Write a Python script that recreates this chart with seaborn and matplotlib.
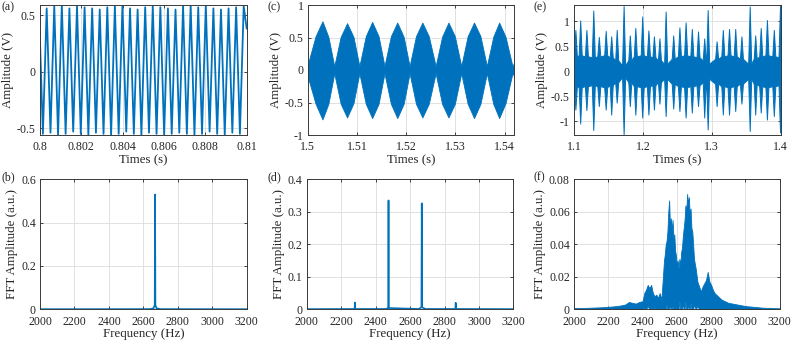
import numpy as np
import matplotlib
matplotlib.use("Agg")
import matplotlib.pyplot as plt
import seaborn as sns
from matplotlib.ticker import FormatStrFormatter

# ======================================================
# DATA
# ======================================================

BLUE = "#0072BD"

# (a) single tone, 0.8 - 0.81 s : extremes of the sampled sine
a_start_val = 0.27
a_end_val = 0.38
a_first = 0.80014      # time of first trough (s)
a_half = 0.0001833     # half period (s)
a_troughs = [-0.55, -0.54, -0.56, -0.55, -0.53, -0.55, -0.56, -0.54, -0.55,
             -0.56, -0.55, -0.53, -0.55, -0.56, -0.54, -0.55, -0.56, -0.55,
             -0.54, -0.55, -0.56, -0.55, -0.53, -0.55, -0.56, -0.54, -0.55]
a_peaks = [0.56, 0.58, 0.59, 0.56, 0.58, 0.57, 0.56, 0.55, 0.57,
           0.58, 0.59, 0.56, 0.55, 0.57, 0.58, 0.57, 0.56, 0.55,
           0.58, 0.59, 0.57, 0.59, 0.56, 0.55, 0.56, 0.57, 0.58]

# (b) spectrum of (a)
b_freq = [2000, 2640, 2660, 2666, 2668, 2670, 2676, 2700, 3200]
b_amp = [0.0006, 0.001, 0.005, 0.02, 0.53, 0.02, 0.005, 0.001, 0.0006]

# (c) two tones -> beat envelope (nulls, quarter points, peaks)
c_t = [1.5000, 1.5016, 1.5030, 1.5042, 1.5054, 1.5067, 1.5080, 1.5093,
       1.5105, 1.5118, 1.5131, 1.5144, 1.5156, 1.5169, 1.5182, 1.5195,
       1.5207, 1.5220, 1.5233, 1.5246, 1.5260, 1.5273, 1.5286, 1.5299,
       1.5312, 1.5325, 1.5338, 1.5351, 1.5364, 1.5377, 1.5389, 1.5402,
       1.5416, 1.5420]
c_hi = [0.08, 0.52, 0.75, 0.51, 0.06, 0.51, 0.72, 0.51, 0.06, 0.52, 0.74, 0.52,
        0.06, 0.52, 0.73, 0.51, 0.06, 0.52, 0.73, 0.52, 0.06, 0.51, 0.73, 0.52,
        0.06, 0.52, 0.73, 0.52, 0.06, 0.51, 0.73, 0.51, 0.06, 0.12]
c_lo = [-0.10, -0.52, -0.76, -0.52, -0.05, -0.52, -0.73, -0.51, -0.05, -0.52,
        -0.74, -0.52, -0.05, -0.52, -0.74, -0.52, -0.05, -0.52, -0.73, -0.52,
        -0.05, -0.52, -0.73, -0.52, -0.05, -0.52, -0.74, -0.52, -0.05, -0.52,
        -0.74, -0.51, -0.05, -0.10]

# (d) spectrum of (c)
d_freq = [2000, 2278, 2280, 2282, 2460, 2473, 2475, 2477, 2650, 2666, 2668,
          2670, 2690, 2863, 2865, 2867, 3200]
d_amp = [0.0006, 0.001, 0.021, 0.001, 0.001, 0.004, 0.335, 0.004, 0.001, 0.006,
         0.326, 0.006, 0.001, 0.001, 0.020, 0.001, 0.0006]

# (e) measured signal: bursts (time, top, bottom) over a dense band
e_t = [1.102, 1.109, 1.118, 1.128, 1.136, 1.146, 1.154, 1.162, 1.172, 1.181,
       1.189, 1.199, 1.208, 1.216, 1.224, 1.233, 1.244, 1.253, 1.262, 1.271,
       1.280, 1.289, 1.294, 1.307, 1.316, 1.325, 1.334, 1.343, 1.355, 1.363,
       1.371, 1.380, 1.390, 1.399]
e_hi = [0.83, 1.02, 0.83, 1.22, 0.69, 0.81, 0.70, 0.83, 1.31, 0.72,
        0.87, 1.10, 0.82, 0.70, 0.66, 1.20, 0.72, 0.88, 0.98, 0.85,
        0.80, 0.66, 1.23, 0.60, 0.83, 0.85, 0.85, 0.70, 1.30, 0.72,
        0.87, 1.03, 0.83, 1.33]
e_lo = [-0.77, -1.05, -0.78, -1.18, -0.70, -0.77, -0.87, -0.63, -1.27, -0.70,
        -0.87, -0.93, -0.87, -0.77, -0.65, -0.90, -0.75, -0.80, -0.93, -0.83,
        -0.70, -0.93, -1.17, -0.70, -0.87, -0.87, -0.80, -0.65, -1.20, -0.87,
        -0.83, -0.97, -0.90, -1.23]
e_band = [0.30, 0.32, 0.30, 0.28, 0.30, 0.32, 0.28, 0.22, 0.12, 0.22,
          0.30, 0.32, 0.30, 0.28, 0.22, 0.15, 0.25, 0.30, 0.32, 0.30,
          0.28, 0.22, 0.15, 0.25, 0.30, 0.32, 0.30, 0.25, 0.15, 0.25,
          0.30, 0.32, 0.30, 0.28]

# (f) spectrum of (e): upper / lower envelope
f_freq = [2000, 2050, 2100, 2150, 2200, 2250, 2280, 2300, 2320, 2340,
          2360, 2380, 2400, 2410, 2420, 2430, 2440, 2450, 2460, 2470,
          2480, 2490, 2500, 2510, 2520, 2525, 2530, 2535, 2540, 2545,
          2550, 2555, 2560, 2565, 2570, 2575, 2580, 2585, 2590, 2595,
          2600, 2605, 2610, 2615, 2620, 2625, 2630, 2635, 2640, 2645,
          2650, 2655, 2660, 2665, 2670, 2675, 2680, 2685, 2690, 2695,
          2700, 2710, 2720, 2730, 2740, 2750, 2760, 2770, 2780, 2790,
          2800, 2810, 2820, 2840, 2860, 2880, 2900, 2950, 3000, 3050,
          3100, 3150, 3200]
f_hi = [0.0008, 0.0008, 0.0010, 0.0012, 0.0015, 0.0020, 0.0025, 0.0030, 0.0045, 0.0040,
        0.0035, 0.0045, 0.0050, 0.0100, 0.0120, 0.0150, 0.0130, 0.0150, 0.0100, 0.0080,
        0.0090, 0.0070, 0.0100, 0.0060, 0.0220, 0.0300, 0.0340, 0.0400, 0.0420, 0.0480,
        0.0600, 0.0670, 0.0500, 0.0560, 0.0480, 0.0550, 0.0440, 0.0460, 0.0360, 0.0330,
        0.0270, 0.0300, 0.0250, 0.0310, 0.0270, 0.0350, 0.0380, 0.0450, 0.0500, 0.0550,
        0.0640, 0.0600, 0.0710, 0.0650, 0.0690, 0.0580, 0.0620, 0.0500, 0.0480, 0.0400,
        0.0310, 0.0250, 0.0170, 0.0140, 0.0110, 0.0140, 0.0160, 0.0180, 0.0230, 0.0170,
        0.0150, 0.0120, 0.0100, 0.0080, 0.0060, 0.0050, 0.0040, 0.0030, 0.0020, 0.0015,
        0.0010, 0.0008, 0.0006]
f_lo = [0.0, 0.0, 0.0, 0.0, 0.0, 0.0, 0.0, 0.0, 0.0, 0.0,
        0.0, 0.0, 0.0, 0.001, 0.0, 0.002, 0.0, 0.001, 0.0, 0.001,
        0.0, 0.001, 0.0, 0.0, 0.0, 0.0, 0.0, 0.0, 0.003, 0.0,
        0.0, 0.0, 0.003, 0.0, 0.0, 0.002, 0.0, 0.0, 0.0, 0.0,
        0.003, 0.0, 0.0, 0.005, 0.0, 0.0, 0.0, 0.004, 0.0, 0.0,
        0.005, 0.0, 0.0, 0.003, 0.0, 0.0, 0.004, 0.0, 0.0, 0.0,
        0.003, 0.0, 0.002, 0.0, 0.0, 0.0, 0.0, 0.0, 0.0, 0.0,
        0.0, 0.0, 0.0, 0.0, 0.0, 0.0, 0.0, 0.0, 0.0, 0.0,
        0.0, 0.0, 0.0]

freq_ticks = [2000, 2200, 2400, 2600, 2800, 3000, 3200]

# ======================================================
# STYLE
# ======================================================

sns.set_theme(style="ticks")
plt.rcParams["font.family"] = ["Liberation Serif", "DejaVu Serif"]
plt.rcParams["axes.unicode_minus"] = False
plt.rcParams["font.size"] = 8.5

fig = plt.figure(figsize=(7.93, 3.45), dpi=100)

W, H = 793.0, 345.0


def make_axes(left_px, top_px, w_px=206.7, h_px=130.0):
    return fig.add_axes([left_px / W, 1 - (top_px + h_px) / H, w_px / W, h_px / H])


def style(ax, xlim, xticks, ylim, yticks, xlabel, ylabel):
    ax.set_xlim(xlim)
    ax.set_ylim(ylim)
    ax.set_xticks(xticks)
    ax.set_yticks(yticks)
    ax.xaxis.set_major_formatter(FormatStrFormatter("%g"))
    ax.yaxis.set_major_formatter(FormatStrFormatter("%g"))
    ax.grid(True, color="#dcdcdc", linewidth=0.6)
    ax.set_axisbelow(True)
    for sp in ax.spines.values():
        sp.set_visible(True)
        sp.set_color("#3a3a3a")
        sp.set_linewidth(0.7)
    ax.tick_params(direction="in", length=2.5, width=0.6, colors="#262626",
                   labelsize=8.6, top=True, right=True)
    ax.tick_params(axis="x", pad=4.5)
    ax.tick_params(axis="y", pad=3)
    ax.set_xlabel(xlabel, fontsize=9.3, color="#262626", labelpad=0.5)
    ax.set_ylabel(ylabel, fontsize=9.3, color="#262626", labelpad=2)


# ======================================================
# (a) TIME SIGNAL - SINGLE TONE
# ======================================================

a_ext = []
for tr, pk in zip(a_troughs, a_peaks):
    a_ext += [tr, pk]
a_t = [0.8] + list(a_first + a_half * np.arange(len(a_ext))) + [0.81]
a_y = [a_start_val] + a_ext + [a_end_val]

ax_a = make_axes(40, 5)
sns.lineplot(x=a_t, y=a_y, ax=ax_a, color=BLUE, linewidth=1.3,
             estimator=None, sort=False)
style(ax_a, (0.8, 0.81), [0.8, 0.802, 0.804, 0.806, 0.808, 0.81],
      (-0.56, 0.59), [-0.5, 0, 0.5], "Times (s)", "Amplitude (V)")

# ======================================================
# (b) FFT OF (a)
# ======================================================

ax_b = make_axes(40, 179.3)
sns.lineplot(x=b_freq, y=b_amp, ax=ax_b, color=BLUE, linewidth=1.2,
             estimator=None, sort=False)
style(ax_b, (2000, 3200), freq_ticks, (0, 0.6), [0, 0.2, 0.4, 0.6],
      "Frequency (Hz)", "FFT Amplitude (a.u.)")

# ======================================================
# (c) TIME SIGNAL - TWO TONES
# ======================================================

ax_c = make_axes(307.7, 5)
ax_c.fill_between(c_t, c_lo, c_hi, color=BLUE, linewidth=0.6)
style(ax_c, (1.5, 1.542), [1.5, 1.51, 1.52, 1.53, 1.54],
      (-1, 1), [-1, -0.5, 0, 0.5, 1], "Times (s)", "Amplitude (V)")

# ======================================================
# (d) FFT OF (c)
# ======================================================

ax_d = make_axes(306.7, 179.3)
sns.lineplot(x=d_freq, y=d_amp, ax=ax_d, color=BLUE, linewidth=1.2,
             estimator=None, sort=False)
style(ax_d, (2000, 3200), freq_ticks, (0, 0.4), [0, 0.1, 0.2, 0.3, 0.4],
      "Frequency (Hz)", "FFT Amplitude (a.u.)")

# ======================================================
# (e) MEASURED SIGNAL
# ======================================================

# each burst drawn as a narrow spike rising out of the band
burst_w = 0.0022
env_t, env_hi, env_lo = [], [], []
for t, hi, lo, bd in zip(e_t, e_hi, e_lo, e_band):
    env_t += [t - burst_w, t, t + burst_w]
    env_hi += [bd, hi, bd]
    env_lo += [-bd, lo, -bd]
order = np.argsort(env_t, kind="stable")
env_t = np.array(env_t)[order]
env_hi = np.array(env_hi)[order]
env_lo = np.array(env_lo)[order]

ax_e = make_axes(574, 5)
ax_e.fill_between(env_t, env_lo, env_hi, color=BLUE, linewidth=0.7)
style(ax_e, (1.1, 1.4), [1.1, 1.2, 1.3, 1.4],
      (-1.28, 1.33), [-1, -0.5, 0, 0.5, 1], "Times (s)", "Amplitude (V)")

# ======================================================
# (f) FFT OF (e)
# ======================================================

ax_f = make_axes(574, 179.3, w_px=205.7)
ax_f.fill_between(f_freq, f_lo, f_hi, color=BLUE, linewidth=0.6)
style(ax_f, (2000, 3200), freq_ticks, (0, 0.08),
      [0, 0.02, 0.04, 0.06, 0.08], "Frequency (Hz)", "FFT Amplitude (a.u.)")

# ======================================================
# PANEL LETTERS
# ======================================================

for lab, x_px, y_px in [("(a)", 1, 1), ("(b)", 1, 171), ("(c)", 267, 1),
                        ("(d)", 267, 171), ("(e)", 533, 1), ("(f)", 533, 171)]:
    fig.text(x_px / W, 1 - y_px / H, lab, fontsize=8.6, color="#262626",
             ha="left", va="top")

fig.savefig("out.png", dpi=100)
plt.close(fig)
